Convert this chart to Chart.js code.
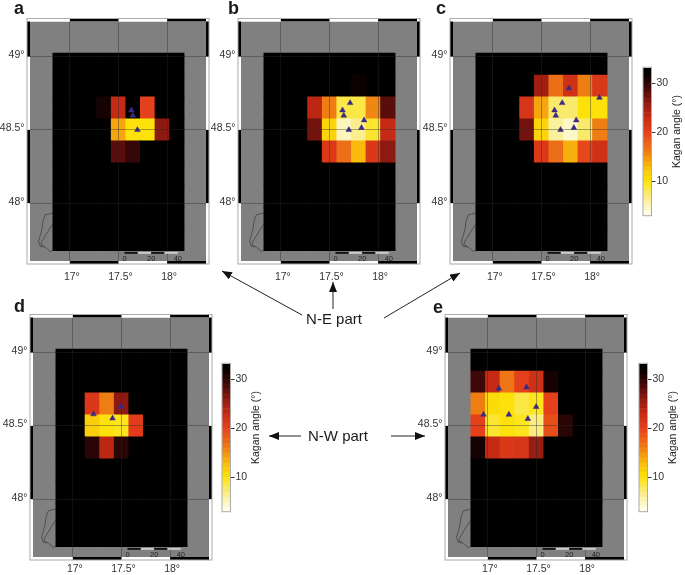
<!DOCTYPE html>
<html>
<head>
<meta charset="utf-8">
<script src="https://cdn.jsdelivr.net/npm/chart.js@4"></script>
<style>
  html, body { margin: 0; padding: 0; background: #fff; width: 685px; height: 575px; overflow: hidden; }
  canvas, svg { position: absolute; }
  svg text { font-family: "Liberation Sans", Arial, sans-serif; fill: #1a1a1a; }
</style>
</head>
<body>
<canvas id="mapA" width="211" height="290" style="left:0;top:0"></canvas>
<canvas id="mapB" width="211" height="290" style="left:211px;top:0"></canvas>
<canvas id="mapC" width="211" height="290" style="left:423px;top:0"></canvas>
<canvas id="mapD" width="211" height="279" style="left:3px;top:296px"></canvas>
<canvas id="mapE" width="211" height="279" style="left:418px;top:296px"></canvas>
<canvas id="barC" width="45" height="163" style="left:640px;top:60px"></canvas>
<canvas id="barD" width="45" height="163" style="left:219px;top:356px"></canvas>
<canvas id="barE" width="45" height="163" style="left:636px;top:356px"></canvas>
<svg width="685" height="575" style="left:0;top:0">
  <defs>
    <marker id="head" viewBox="0 0 10 8" refX="10" refY="4" markerWidth="10" markerHeight="8" markerUnits="userSpaceOnUse" orient="auto">
      <path d="M0,0 L10,4 L0,8 Z" fill="#111"/>
    </marker>
  </defs>
  <g stroke="#222" stroke-width="1">
    <line x1="302" y1="315" x2="222" y2="271" marker-end="url(#head)"/>
    <line x1="333" y1="309" x2="333" y2="282" marker-end="url(#head)"/>
    <line x1="384" y1="318" x2="460" y2="273" marker-end="url(#head)"/>
    <line x1="301" y1="436" x2="269" y2="436" marker-end="url(#head)"/>
    <line x1="391" y1="436" x2="425" y2="436" marker-end="url(#head)"/>
  </g>
  <text x="334" y="324" font-size="15" text-anchor="middle">N-E part</text>
  <text x="338" y="441" font-size="15" text-anchor="middle">N-W part</text>
  <g font-size="18" font-weight="bold">
    <text x="14" y="14">a</text>
    <text x="228" y="14">b</text>
    <text x="436" y="14">c</text>
    <text x="14" y="312">d</text>
    <text x="433" y="313">e</text>
  </g>
</svg>
<script>
// grid cell centres
const lons = [16.9, 17.05, 17.2, 17.35, 17.5, 17.65, 17.8, 17.95, 18.1];
const lats = [48.95, 48.8, 48.65, 48.5, 48.35, 48.2, 48.05, 47.9, 47.75];
const lonTicks = [17, 17.5, 18];
const latTicks = [48, 48.5, 49];
const barTicks = [10, 20, 30];
const barSteps = [3,4,5,6,7,8,9,10,11,12,13,14,15,16,17,18,19,20,21,22,23,24,25,26,27,28,29,30,31,32];

// kagan angle per cell, rows north to south
const kaganA = [
  [33,33,33,33,33,33,33,33,33],
  [33,33,33,33,33,33,33,33,33],
  [33,33,33,31,23,33,20,33,33],
  [33,33,33,33,14,10,10,26,33],
  [33,33,33,33,28,29.5,33,33,33],
  [33,33,33,33,33,33,33,33,33],
  [33,33,33,33,33,33,33,33,33],
  [33,33,33,33,33,33,33,33,33],
  [33,33,33,33,33,33,33,33,33]
];
const kaganB = [
  [33,33,33,33,33,33,33,33,33],
  [33,33,33,33,33,33,31.5,33,33],
  [33,33,33,23.5,16,8.5,8.5,15.5,28],
  [33,33,33,27,11,5,6.5,9,23],
  [33,33,33,33,21,17,13,21,26],
  [33,33,33,33,33,33,33,33,33],
  [33,33,33,33,33,33,33,33,33],
  [33,33,33,33,33,33,33,33,33],
  [33,33,33,33,33,33,33,33,33]
];
const kaganC = [
  [33,33,33,33,33,33,33,33,33],
  [33,33,33,33,25,17,22,16,21],
  [33,33,33,21.5,14,7.5,7.5,10,10],
  [33,33,33,27,11,6,4.5,7.5,16],
  [33,33,33,33,21,17,13.5,19.5,22],
  [33,33,33,33,33,33,33,33,33],
  [33,33,33,33,33,33,33,33,33],
  [33,33,33,33,33,33,33,33,33],
  [33,33,33,33,33,33,33,33,33]
];
const kaganD = [
  [33,33,33,33,33,33,33,33,33],
  [33,33,33,33,33,33,33,33,33],
  [33,33,21,16,26,33,33,33,33],
  [33,33,11.5,10,9.5,20.5,33,33,33],
  [33,33,30,23.5,30,33,33,33,33],
  [33,33,33,33,33,33,33,33,33],
  [33,33,33,33,33,33,33,33,33],
  [33,33,33,33,33,33,33,33,33],
  [33,33,33,33,33,33,33,33,33]
];
const kaganE = [
  [33,33,33,33,33,33,33,33,33],
  [29,23,16.5,20,22,31,33,33,33],
  [16,10.5,10,8.5,9.5,20,33,33,33],
  [20,9,10,9.5,7,19,30,33,33],
  [31,23,21,21.5,25.5,32,33,33,33],
  [33,33,33,33,33,33,33,33,33],
  [33,33,33,33,33,33,33,33,33],
  [33,33,33,33,33,33,33,33,33],
  [33,33,33,33,33,33,33,33,33]
];

// events (triangles)
const eventLonA = [17.633, 17.647, 17.695];
const eventLatA = [48.634, 48.598, 48.5];
const eventLonB = [17.712, 17.634, 17.647, 17.856, 17.829, 17.699];
const eventLatB = [48.684, 48.634, 48.598, 48.566, 48.514, 48.5];
const eventLonC = [17.782, 18.096, 17.713, 17.634, 17.647, 17.857, 17.833, 17.696];
const eventLatC = [48.784, 48.72, 48.684, 48.634, 48.598, 48.566, 48.514, 48.5];
const eventLonD = [17.212, 17.408, 17.49];
const eventLatD = [48.58, 48.552, 48.632];
const eventLonE = [17.113, 17.397, 17.497, 16.955, 17.216, 17.411];
const eventLatE = [48.755, 48.764, 48.63, 48.577, 48.577, 48.548];

// coast outline in the lower left corner
const coastLon = [16.825, 16.747, 16.723, 16.712, 16.678, 16.695, 16.747, 16.798, 16.825];
const coastLat = [47.932, 47.92, 47.875, 47.818, 47.739, 47.705, 47.7, 47.67, 47.677];
const coast2Lon = [16.825, 16.764, 16.712, 16.702, 16.736];
const coast2Lat = [47.859, 47.795, 47.739, 47.716, 47.705];

// km scale bar
const scaleBarLons = [17.562, 17.699, 17.836, 17.973, 18.11];
const scaleBarLabels = ['0', '', '20', '', '40'];

// colour table
const colorVals = [3, 7, 10, 13, 16, 20, 23, 26, 29, 32];
const colorRgb = [[255,255,245],[250,236,128],[252,226,10],[249,185,13],[238,125,20],[229,64,28],[196,42,20],[140,26,16],[63,8,8],[0,0,0]];

const fontName = '"Liberation Sans", Arial, sans-serif';
const halfCell = 0.075;

function kaganColor(v) {
  if (v >= 32) return 'rgb(0,0,0)';
  let i = 0;
  while (v > colorVals[i + 1]) i++;
  let t = (v - colorVals[i]) / (colorVals[i + 1] - colorVals[i]);
  let c = colorRgb[i].map((a, k) => Math.round(a + (colorRgb[i + 1][k] - a) * t));
  return 'rgb(' + c.join(',') + ')';
}

// grey map, frame bands and scale bar
const mapFrame = {
  id: 'mapFrame',
  beforeDraw(chart) {
    let a = chart.chartArea, ctx = chart.ctx;
    ctx.fillStyle = '#808080';
    ctx.fillRect(a.left, a.top, a.right - a.left, a.bottom - a.top);
  },
  afterDraw(chart) {
    let a = chart.chartArea, ctx = chart.ctx;
    let x = chart.scales.x, y = chart.scales.y;
    let b = 3;
    ctx.save();
    ctx.fillStyle = '#fff';
    ctx.fillRect(a.left - b, a.top - b, a.right - a.left + 2 * b, b);
    ctx.fillRect(a.left - b, a.bottom, a.right - a.left + 2 * b, b);
    ctx.fillRect(a.left - b, a.top, b, a.bottom - a.top);
    ctx.fillRect(a.right, a.top, b, a.bottom - a.top);
    ctx.fillStyle = '#000';
    // top and bottom
    [[lonTicks[0], lonTicks[1]], [lonTicks[2], x.max]].forEach(s => {
      let x0 = x.getPixelForValue(s[0]), x1 = x.getPixelForValue(s[1]);
      ctx.fillRect(x0, a.top - b, x1 - x0, b);
      ctx.fillRect(x0, a.bottom, x1 - x0, b);
    });
    // left and right
    [[y.max, latTicks[2]], [latTicks[1], latTicks[0]]].forEach(s => {
      let y0 = y.getPixelForValue(s[0]), y1 = y.getPixelForValue(s[1]);
      ctx.fillRect(a.left - b, y0, b, y1 - y0);
      ctx.fillRect(a.right, y0, b, y1 - y0);
    });
    ctx.strokeStyle = '#aaa';
    ctx.lineWidth = 1;
    ctx.strokeRect(a.left - b, a.top - b, a.right - a.left + 2 * b, a.bottom - a.top + 2 * b);

    // scale bar
    let y0 = y.getPixelForValue(47.667), y1 = y.getPixelForValue(47.654);
    for (let i = 0; i < scaleBarLons.length - 1; i++) {
      let x0 = x.getPixelForValue(scaleBarLons[i]), x1 = x.getPixelForValue(scaleBarLons[i + 1]);
      ctx.fillStyle = i % 2 ? '#ccc' : '#111';
      ctx.fillRect(x0, y0, x1 - x0, y1 - y0);
    }
    ctx.fillStyle = '#222';
    ctx.font = '7.5px ' + fontName;
    ctx.textAlign = 'center';
    ctx.textBaseline = 'middle';
    scaleBarLabels.forEach((t, i) => {
      ctx.fillText(t, x.getPixelForValue(scaleBarLons[i]), y.getPixelForValue(47.62));
    });
    ctx.restore();
  }
};

function cellPoints(grid) {
  let pts = [];
  lats.forEach((lat, r) => lons.forEach((lon, c) => {
    pts.push({ x: lon, y: [lat - halfCell, lat + halfCell], v: grid[r][c] });
  }));
  return pts;
}

function xy(xs, ys) {
  return xs.map((v, i) => ({ x: v, y: ys[i] }));
}

function drawMap(id, grid, evLon, evLat, labelPad) {
  let canvas = document.getElementById(id);
  let cells = cellPoints(grid);
  return new Chart(canvas, {
    type: 'bar',
    data: {
      datasets: [
        {
          type: 'scatter',
          data: xy(evLon, evLat),
          pointStyle: 'triangle',
          pointRadius: 3.3,
          backgroundColor: '#3a2a86',
          borderColor: '#3a2a86',
          borderWidth: 0.5,
          order: 0
        },
        {
          type: 'scatter',
          data: xy(coastLon, coastLat),
          showLine: true,
          pointRadius: 0,
          borderColor: '#3c3c3c',
          borderWidth: 0.7,
          order: 2
        },
        {
          type: 'scatter',
          data: xy(coast2Lon, coast2Lat),
          showLine: true,
          pointRadius: 0,
          borderColor: '#3c3c3c',
          borderWidth: 0.7,
          order: 2
        },
        {
          data: cells,
          backgroundColor: cells.map(c => kaganColor(c.v)),
          barPercentage: 1,
          categoryPercentage: 1,
          borderWidth: 0,
          order: 1
        }
      ]
    },
    options: {
      responsive: false,
      animation: false,
      layout: { padding: { top: 21.5, right: 5, left: 0, bottom: 0 } },
      plugins: { legend: { display: false }, tooltip: { enabled: false } },
      scales: {
        x: {
          type: 'linear',
          min: 16.59,
          max: 18.4,
          offset: false,
          afterBuildTicks(s) { s.ticks = lonTicks.map(v => ({ value: v })); },
          afterFit(s) { s.height = canvas.height - 261; },
          grid: { offset: false, color: 'rgba(40,40,40,0.4)', z: 1, drawTicks: false },
          border: { display: false },
          ticks: {
            padding: labelPad,
            labelOffset: 2,
            maxRotation: 0,
            autoSkip: false,
            color: '#333',
            font: { family: fontName, size: 10.5 },
            callback: v => v + '°'
          }
        },
        y: {
          type: 'linear',
          min: 47.605,
          max: 49.24,
          afterBuildTicks(s) { s.ticks = latTicks.map(v => ({ value: v })); },
          afterFit(s) { s.width = 30; },
          grid: { color: 'rgba(40,40,40,0.4)', z: 1, drawTicks: false },
          border: { display: false },
          ticks: {
            padding: 5.5,
            labelOffset: -1.5,
            autoSkip: false,
            color: '#333',
            font: { family: fontName, size: 10.5 },
            callback: v => v + '°'
          }
        }
      }
    },
    plugins: [mapFrame]
  });
}

// outline of the colour bar and its rotated title
const barFrame = {
  id: 'barFrame',
  afterDraw(chart) {
    let a = chart.chartArea, ctx = chart.ctx;
    ctx.save();
    ctx.strokeStyle = '#aaa';
    ctx.lineWidth = 1;
    ctx.strokeRect(a.left, a.top, a.right - a.left, a.bottom - a.top);
    ctx.translate(a.right + 26, (a.top + a.bottom) / 2 - 10);
    ctx.rotate(-Math.PI / 2);
    ctx.fillStyle = '#222';
    ctx.font = '10.5px ' + fontName;
    ctx.textAlign = 'center';
    ctx.textBaseline = 'middle';
    ctx.fillText('Kagan angle (°)', 0, 0);
    ctx.restore();
  }
};

function drawBar(id) {
  return new Chart(document.getElementById(id), {
    type: 'bar',
    data: {
      labels: [''],
      datasets: barSteps.map(v => ({
        data: [[v, v + 1]],
        backgroundColor: kaganColor(v + 0.5),
        barPercentage: 1,
        categoryPercentage: 1,
        grouped: false,
        borderWidth: 0
      }))
    },
    options: {
      responsive: false,
      animation: false,
      layout: { padding: { top: 6, bottom: 6, left: 3, right: 0 } },
      plugins: { legend: { display: false }, tooltip: { enabled: false } },
      scales: {
        x: { display: false },
        y: {
          position: 'right',
          min: 3,
          max: 33.2,
          afterBuildTicks(s) { s.ticks = barTicks.map(v => ({ value: v })); },
          afterFit(s) { s.width = 33.5; },
          grid: { drawOnChartArea: false, tickLength: 4, color: '#333' },
          border: { display: false },
          ticks: {
            padding: 1,
            color: '#333',
            font: { family: fontName, size: 10.5 }
          }
        }
      }
    },
    plugins: [barFrame]
  });
}

drawMap('mapA', kaganA, eventLonA, eventLatA, 10);
drawMap('mapB', kaganB, eventLonB, eventLatB, 10);
drawMap('mapC', kaganC, eventLonC, eventLatC, 10);
drawMap('mapD', kaganD, eventLonD, eventLatD, 6);
drawMap('mapE', kaganE, eventLonE, eventLatE, 6);
drawBar('barC');
drawBar('barD');
drawBar('barE');
</script>
</body>
</html>
